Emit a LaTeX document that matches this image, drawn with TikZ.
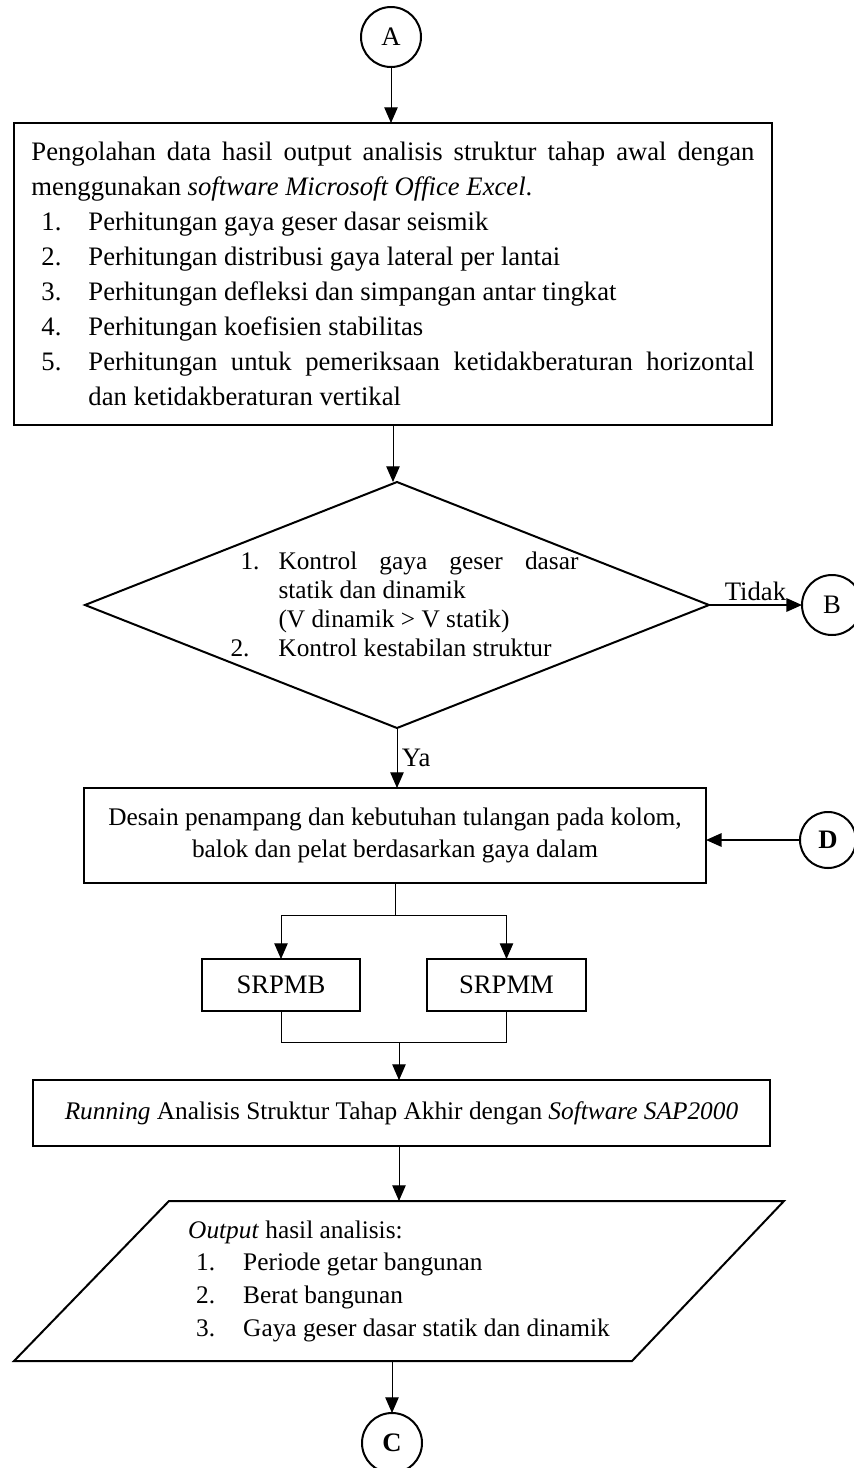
\documentclass[tikz,border=0pt]{standalone}
\usepackage{fontspec}
\setmainfont{Liberation Serif}
\usetikzlibrary{shapes.geometric,arrows.meta}

\newcommand{\numitem}[3]{\par\noindent\hangindent=#2\hangafter=1
  \makebox[#2][l]{\hspace*{#1}#3}\ignorespaces}

\begin{document}
\begin{tikzpicture}[x=0.45pt, y=-0.45pt, line width=0.45pt,
  font=\fontsize{12}{15.75}\selectfont,
  box/.style={draw, line width=0.9pt, inner sep=0pt, outer sep=0pt},
  smalltext/.style={font=\fontsize{11.4}{14.7}\selectfont},
  conn/.style={circle, draw, line width=0.9pt, minimum size=27pt, inner sep=0pt, outer sep=0pt},
  arr/.style={-{Triangle[length=7pt, width=6pt]}}]

  \useasboundingbox (0,0) rectangle (854,1468);

  \node[conn] (a) at (391,37) {A};

  \node[box, minimum width=341.1pt, minimum height=135.9pt, text width=325.35pt, align=justify] (olah) at (393,274) {%
    Pengolahan data hasil output analisis struktur tahap awal dengan\linebreak
    menggunakan \textit{software Microsoft Office Excel}.
    \numitem{4.5pt}{25.65pt}{1.}Perhitungan gaya geser dasar seismik
    \numitem{4.5pt}{25.65pt}{2.}Perhitungan distribusi gaya lateral per lantai
    \numitem{4.5pt}{25.65pt}{3.}Perhitungan defleksi dan simpangan antar tingkat
    \numitem{4.5pt}{25.65pt}{4.}Perhitungan koefisien stabilitas
    \numitem{4.5pt}{25.65pt}{5.}Perhitungan untuk pemeriksaan ketidakberaturan horizontal\linebreak
    dan ketidakberaturan vertikal\par};

  \node[diamond, draw, line width=0.9pt, minimum width=280.8pt, minimum height=110.7pt,
    inner sep=0pt, outer sep=0pt] (cek) at (397,605) {};
  \node[anchor=west, inner sep=0pt, text width=156.6pt, align=justify,
    font=\fontsize{11.4}{13}\selectfont] (cektxt) at (230,599) {%
    \numitem{4.5pt}{21.6pt}{1.}Kontrol gaya geser dasar\linebreak
    statik dan dinamik\\(V dinamik > V statik)
    \numitem{0pt}{21.6pt}{2.}Kontrol kestabilan struktur\par};

  \node[conn] (b) at (832,605) {B};

  \node[box, smalltext, minimum width=279.9pt, minimum height=42.75pt, align=center] (desain) at (395,835.5)
    {Desain penampang dan kebutuhan tulangan pada kolom,\\balok dan pelat berdasarkan gaya dalam};

  \node[conn, minimum size=25.2pt, font=\fontsize{12}{14}\selectfont\bfseries] (d) at (828,840) {D};

  \node[box, minimum width=71.1pt, minimum height=23.4pt] (srpmb) at (281,985) {SRPMB};
  \node[box, minimum width=71.55pt, minimum height=23.4pt] (srpmm) at (506.5,985) {SRPMM};
  \coordinate (gabung) at (399,1042);

  \node[box, smalltext, minimum width=331.65pt, minimum height=29.7pt] (running) at (401.5,1113)
    {\textit{Running} Analisis Struktur Tahap Akhir dengan \textit{Software SAP2000}};

  \node[smalltext, minimum width=346.5pt, minimum height=72pt, inner sep=0pt, outer sep=0pt,
    align=left] (output) at (399,1281) {%
    \textit{Output} hasil analisis:\\
    \makebox[24.75pt][l]{\hspace*{3.6pt}1.}Periode getar bangunan\\
    \makebox[24.75pt][l]{\hspace*{3.6pt}2.}Berat bangunan\\
    \makebox[24.75pt][l]{\hspace*{3.6pt}3.}Gaya geser dasar statik dan dinamik};
  \draw[line width=0.9pt] ([xshift=69.75pt]output.north west) -- (output.north east)
    -- ([xshift=-68.4pt]output.south east) -- (output.south west) -- cycle;

  \node[conn, font=\fontsize{12}{14}\selectfont\bfseries] (c) at (392,1443) {C};

  \draw[arr] (a) -- (a |- olah.north);
  \draw[arr] (olah.south) -- (olah.south |- cek.north);
  \draw[arr, line width=0.9pt] (cek.east) -- node[above, inner sep=1.5pt] {Tidak} (b);
  \draw[arr] (cek.south) -- node[right, inner sep=2pt] {Ya} (cek.south |- desain.north);
  \draw[arr, line width=0.9pt] (d) -- (d -| desain.east);
  \draw[arr] (desain.south) -- ++(0,32) -| (srpmb.north);
  \draw[arr] (desain.south) -- ++(0,32) -| (srpmm.north);
  \draw (srpmb.south) |- (gabung) -| (srpmm.south);
  \draw[arr] (gabung) -- (gabung |- running.north);
  \draw[arr] (output.north |- running.south) -- (output.north);
  \draw[arr] (c |- output.south) -- (c);

\end{tikzpicture}
\end{document}
